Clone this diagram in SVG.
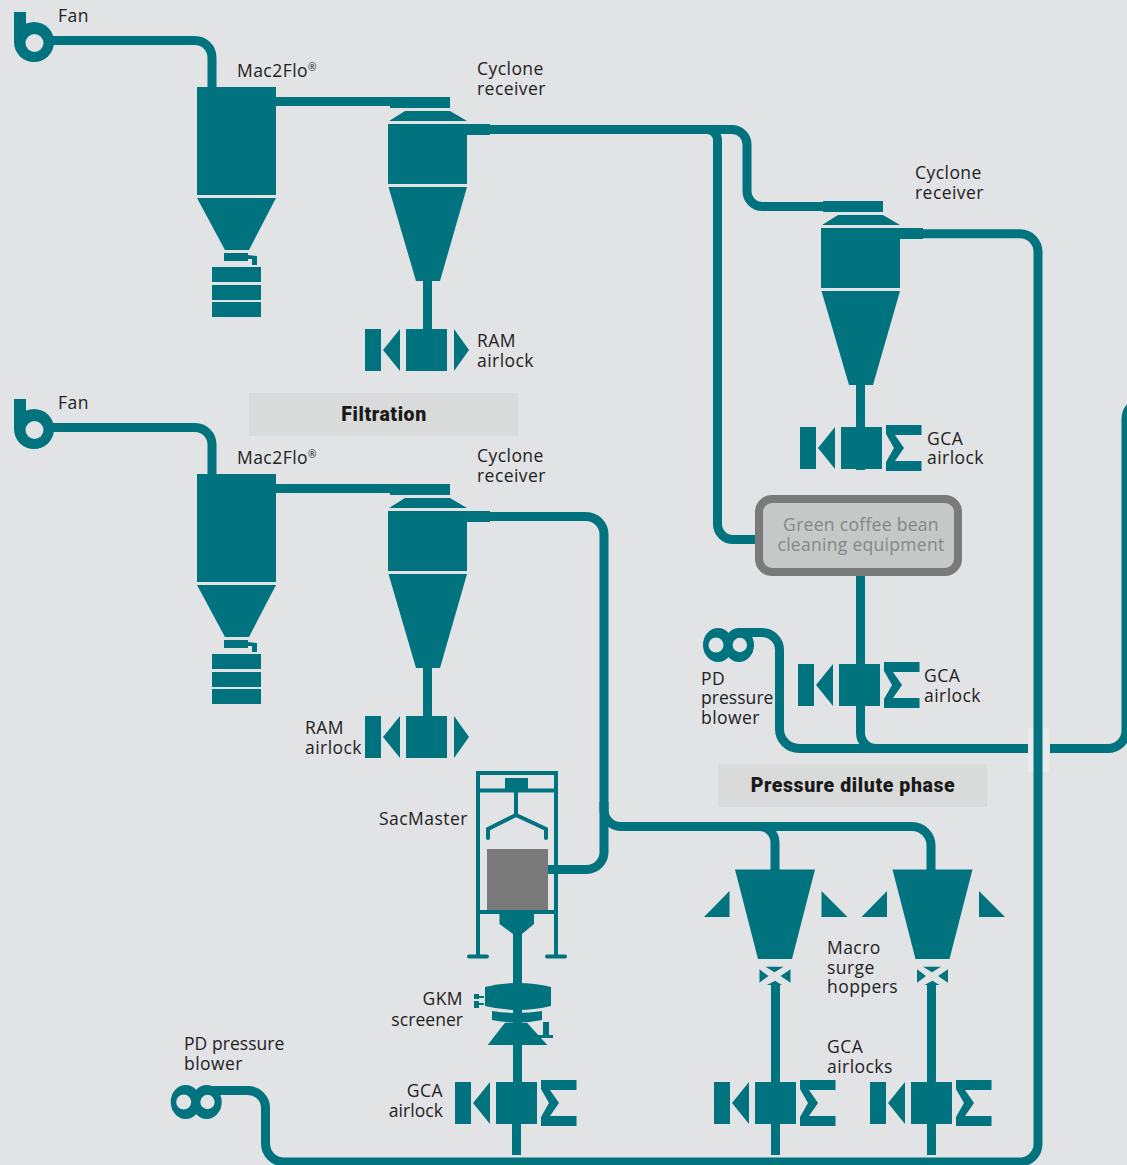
<svg xmlns="http://www.w3.org/2000/svg" xmlns:xlink="http://www.w3.org/1999/xlink" width="1127" height="1165" viewBox="0 0 1127 1165">
<style>
text{font-family:"Open Sans","Noto Sans","Liberation Sans",sans-serif;font-size:17.500px;letter-spacing:.45px;fill:#222;transform:translateY(.25px)}
.t{fill:#00737f}
.p{fill:none;stroke:#00737f;stroke-width:9}
.s4{fill:none;stroke:#00737f;stroke-width:4}
.h{fill:#e1e3e5}
.band{fill:#d9dbda}
text.b{font-family:Roboto,"Open Sans",sans-serif;font-weight:900;font-size:19.500px;letter-spacing:.6px;text-anchor:middle;fill:#1a1a1a}
.e{text-anchor:end}
.n{letter-spacing:.05px}
text.g{fill:#858785;text-anchor:middle;letter-spacing:.3px}
</style>
<defs>
<g id="fan"><rect class="t" x="14" y="12" width="12" height="30"/><circle class="t" cx="34" cy="42" r="20"/><circle class="h" cx="34.5" cy="43" r="9"/></g>
<g id="blower"><ellipse class="t" cx="185.700" cy="1102" rx="15" ry="17"/><ellipse class="t" cx="206.700" cy="1102" rx="15" ry="17"/><circle class="h" cx="183.700" cy="1102" r="7.500"/><circle class="h" cx="207.500" cy="1102" r="7.200"/></g>
<g id="mac"><rect class="t" x="197" y="87" width="79" height="108"/><polygon class="t" points="197,198 276,198 249,250 225,250"/><polygon class="t" points="224,253 248,253 248,255 257,256 257,265 252,265 252,259 248,259 248,261 224,261"/><rect class="t" x="212" y="267" width="49" height="15"/><rect class="t" x="212" y="285" width="49" height="15"/><rect class="t" x="212" y="302" width="49" height="15"/></g>
<g id="cyc"><rect class="t" x="390" y="97" width="60" height="11"/><polygon class="t" points="405,111 450,111 467,121 389,121"/><rect class="t" x="388" y="124" width="79" height="60"/><rect class="t" x="467" y="124" width="23" height="11"/><polygon class="t" points="388.500,187 467,187 440,281 416,281"/></g>
<g id="lock"><rect class="t" x="-61.500" y="-21" width="16" height="42"/><polygon class="t" points="-26.500,-21 -43.500,0 -26.500,21"/><rect class="t" x="-20.500" y="-21" width="41" height="42"/></g>
<polygon id="ram" class="t" points="27.500,-21 42.500,0 27.500,21"/>
<polygon id="sig" class="t" points="24.500,-23 60,-23 60,-13 33.500,-13 42.500,0 33.500,13 60,13 60,23 24.500,23 24.500,14 32.500,0 24.500,-14"/>
<g id="hop"><polygon class="t" points="-40,869.500 40,869.500 17,959 -17,959"/><polygon class="t" points="-71,917 -45.500,891 -45.500,917"/><polygon class="t" points="46.500,891 72.500,917 46.500,917"/><polygon class="t" points="-9.500,966.700 8.500,966.700 -.5,972.300"/><polygon class="t" points="-8,985 0,980.700 7,985"/><polygon class="t" points="-15.500,969.300 -6.500,976 -15.500,982.700"/><polygon class="t" points="15.500,969.300 5.500,976 15.500,982.700"/></g>
</defs>
<rect width="1127" height="1165" class="h"/>
<rect x="1028" y="728" width="21.500" height="44" fill="#e9eaeb"/>
<g id="connectors">
<path class="p" d="M50 40.500H195A17 17 0 0 1 212 57.500V88"/>
<path class="p" d="M50 427.500H195A17 17 0 0 1 212 444.500V475"/>
<path class="p" d="M276 101.500H391"/>
<path class="p" d="M276 488.500H391"/>
<path class="p" d="M489 129.500H732A15 15 0 0 1 747 144.500V191A15.500 15.500 0 0 0 762.500 206.500H824"/>
<path class="p" d="M690 129.500H707A10.500 10.500 0 0 1 717.500 140V524A15.500 15.500 0 0 0 733 539.500H757"/>
<path class="p" d="M922 233.800H1020A18 18 0 0 1 1038 251.800V1144A18 18 0 0 1 1020 1162H284A18.500 18.500 0 0 1 265.500 1143.500V1108A17.500 17.500 0 0 0 248 1090.500H205"/>
<path class="p" d="M738 632.500H762A17.500 17.500 0 0 1 779.500 650V729A19.500 19.500 0 0 0 799 748.500H1028M1050 748.500H1108A18 18 0 0 0 1126 730.500V419A18 18 0 0 1 1144 401"/>
<path class="p" d="M427.500 281V330"/>
<path class="p" d="M427.500 668V717"/>
<path class="p" d="M860.500 384V470M860.500 575V665M860.500 705V733A15.500 15.500 0 0 0 876 748.500"/>
<path class="p" d="M489 516.500H586A18 18 0 0 1 604 534.500V852A17.500 17.500 0 0 1 586.500 869.500H547"/>
<path class="p" d="M604 802V810A16.500 16.500 0 0 0 620.500 826.500H912A19 19 0 0 1 931 845.500V870"/>
<path class="p" d="M750 826.500H759A16 16 0 0 1 775 842.500V870"/>
<path class="p" d="M775.500 985V1155"/>
<path class="p" d="M931.500 985V1155"/>
<path class="p" d="M517.500 932V1082M516.500 1120V1155"/>
</g>
<g id="fan-1"><use href="#fan"/><text x="58" y="21.500">Fan</text></g>
<g id="mac2flo-1"><use href="#mac"/><text x="237" y="76.500">Mac2Flo<tspan font-size="10" dy="-6">®</tspan></text></g>
<g id="cyclone-1"><use href="#cyc"/><text x="477" y="75">Cyclone</text><text x="477" y="95">receiver</text></g>
<g id="ram-airlock-1"><use href="#lock" x="426.500" y="350"/><use href="#ram" x="426.500" y="350"/><text x="477" y="347">RAM</text><text x="477" y="367">airlock</text></g>
<g id="filtration"><rect class="band" x="249" y="393" width="269" height="43"/><text class="b" x="384" y="420.500">Filtration</text></g>
<g id="cyclone-2"><use href="#cyc" x="433" y="104"/><text x="915" y="179">Cyclone</text><text x="915" y="199">receiver</text></g>
<g id="gca-airlock-1"><use href="#lock" x="861.500" y="448"/><use href="#sig" x="861.500" y="448"/><text x="927" y="445">GCA</text><text x="927" y="464">airlock</text></g>
<g id="cleaning"><rect x="759" y="499" width="199" height="73" rx="13" fill="#c6c8c7" stroke="#7a7a7a" stroke-width="8"/><text class="g" x="861" y="531">Green coffee bean</text><text class="g" x="861" y="551">cleaning equipment</text></g>
<g id="blower-1"><use href="#blower" x="532.300" y="-457"/><text x="701" y="685">PD</text><text class="n" x="701" y="704">pressure</text><text x="701" y="724">blower</text></g>
<g id="gca-airlock-2"><use href="#lock" x="859.500" y="685"/><use href="#sig" x="859.500" y="685"/><text x="924" y="682">GCA</text><text x="924" y="702">airlock</text></g>
<g id="pressure-dilute"><rect class="band" x="718" y="764" width="269" height="43"/><text class="b" x="853" y="792">Pressure dilute phase</text></g>
<g id="fan-2"><use href="#fan" y="387"/><text x="58" y="408.500">Fan</text></g>
<g id="mac2flo-2"><use href="#mac" y="387"/><text x="237" y="463.500">Mac2Flo<tspan font-size="10" dy="-6">®</tspan></text></g>
<g id="cyclone-3"><use href="#cyc" y="387"/><text x="477" y="462">Cyclone</text><text x="477" y="482">receiver</text></g>
<g id="ram-airlock-2"><use href="#lock" x="426.500" y="737"/><use href="#ram" x="426.500" y="737"/><text x="305" y="734">RAM</text><text x="305" y="754">airlock</text></g>
<g id="sacmaster">
<rect class="s4" x="478" y="773" width="78" height="139"/><path class="s4" d="M478 790.500H556M516 792V815M516 815L488 829V838M516 815L546 829V838M478 912V956M556 912V956" stroke-linecap="round"/><rect class="t" x="505" y="778" width="23" height="12"/><path class="s4" d="M469 956.500H487M547 956.500H565" stroke-linecap="round"/>
<rect x="487" y="849" width="61" height="61" fill="#7a7a7a"/><polygon class="t" points="499.500,914 534,914 534,924 522,934 513,934 499.500,924"/><text x="379" y="825">SacMaster</text></g>
<g id="gkm"><path class="t" d="M485 987Q518 979 551 987V1006Q518 1014 485 1006Z"/><path class="t" d="M492 1011Q517 1015 542 1011V1020Q517 1025 492 1020Z"/><rect class="t" x="474" y="994" width="5" height="5"/><rect class="t" x="474" y="1001" width="5" height="7"/><rect class="t" x="479" y="996" width="5" height="2"/><rect class="t" x="479" y="1003" width="5" height="2"/><polygon class="t" points="505,1022.700 527,1022.700 547.300,1045 487.700,1045"/><rect class="t" x="543" y="1022" width="6" height="14"/><rect class="t" x="537" y="1035" width="16" height="3"/><text class="e" x="463" y="1005">GKM</text><text class="e n" x="463" y="1026">screener</text></g>
<g id="gca-airlock-3"><use href="#lock" x="516.500" y="1103"/><use href="#sig" x="516.500" y="1103"/><text class="e" x="443" y="1097">GCA</text><text class="e n" x="443" y="1117">airlock</text></g>
<g id="hopper-1"><use href="#hop" x="775"/><text x="827" y="954">Macro</text><text x="827" y="974">surge</text><text x="827" y="993">hoppers</text></g>
<g id="hopper-2"><use href="#hop" x="932.500"/></g>
<g id="gca-airlocks"><use href="#lock" x="775.500" y="1103"/><use href="#sig" x="775.500" y="1103"/><use href="#lock" x="931.500" y="1103"/><use href="#sig" x="931.500" y="1103"/><text x="827" y="1053">GCA</text><text x="827" y="1073">airlocks</text></g>
<g id="blower-2"><use href="#blower"/><text class="n" x="184" y="1050">PD pressure</text><text x="184" y="1070">blower</text></g>
</svg>
